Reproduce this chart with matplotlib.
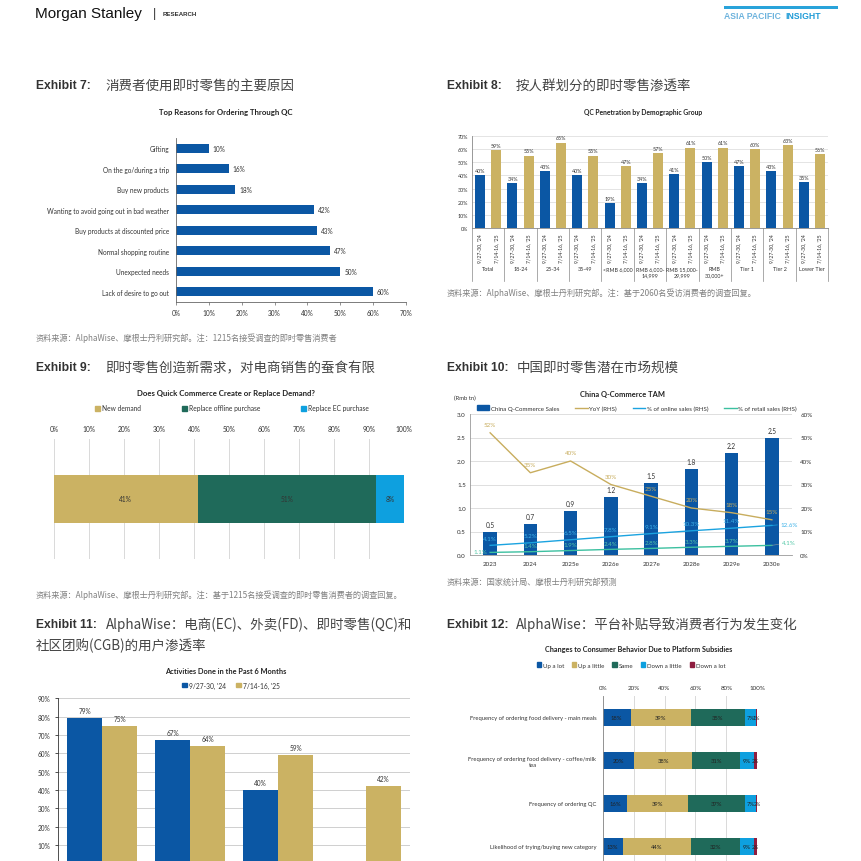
import numpy as np
import matplotlib
matplotlib.use("Agg")
import matplotlib.pyplot as plt
import matplotlib.transforms as mtrans
from matplotlib.patches import Patch
from matplotlib.lines import Line2D

# ── Page geometry (pixels, top-left origin) ─────────────
W = H = 862
DPI = 100

LATIN = ["Liberation Sans", "DejaVu Sans"]
CHART = ["Lato", "DejaVu Sans"]
CJK = ["Noto Sans CJK SC", "DejaVu Sans"]

BLUE = "#0B57A4"
GOLD = "#CBB263"
GREEN = "#1F6A5A"
SKY = "#0EA0DF"
MAROON = "#8E1D3F"
GRID = "#D9D9D9"
TXT = "#333333"
NOTE = "#808080"

# ── Exhibit 7 data ─────────────────────────────────────
reasons = ["Gifting", "On the go/during a trip", "Buy new products",
           "Wanting to avoid going out in bad weather",
           "Buy products at discounted price", "Normal shopping routine",
           "Unexpected needs", "Lack of desire to go out"]
reason_pct = [10, 16, 18, 42, 43, 47, 50, 60]

# ── Exhibit 8 data ─────────────────────────────────────
demo_groups = ["Total", "18-24", "25-34", "35-49", "<RMB 6,000",
               "RMB 6,000-\n14,999", "RMB 15,000-\n29,999", "RMB\n30,000+",
               "Tier 1", "Tier 2", "Lower Tier"]
periods = ["9/27-30, '24", "7/14-16, '25"]
pen_2024 = [40, 34, 43, 40, 19, 34, 41, 50, 47, 43, 35]
pen_2025 = [59, 55, 65, 55, 47, 57, 61, 61, 60, 63, 56]

# ── Exhibit 9 data ─────────────────────────────────────
demand_types = ["New demand", "Replace offline purchase", "Replace EC purchase"]
demand_pct = [41, 51, 8]

# ── Exhibit 10 data ────────────────────────────────────
tam_years = ["2023", "2024", "2025e", "2026e", "2027e", "2028e", "2029e", "2030e"]
tam_sales = [0.50, 0.67, 0.94, 1.23, 1.53, 1.84, 2.17, 2.50]
tam_yoy = [52, 35, 40, 30, 25, 20, 18, 15]
tam_online = [4.1, 5.2, 6.5, 7.8, 9.1, 10.3, 11.4, 12.6]
tam_retail = [1.1, 1.4, 1.9, 2.4, 2.8, 3.3, 3.7, 4.1]

# ── Exhibit 11 data ────────────────────────────────────
activities = ["EC", "FD", "QC", "CGB"]
act_2024 = [79, 67, 40, np.nan]
act_2025 = [75, 64, 59, 42]

# ── Exhibit 12 data ────────────────────────────────────
behaviours = ["Frequency of ordering food delivery - main meals",
              "Frequency of ordering food delivery - coffee/milk\ntea",
              "Frequency of ordering QC",
              "Likelihood of trying/buying new category"]
change_labels = ["Up a lot", "Up a little", "Same", "Down a little", "Down a lot"]
up_lot = [18, 20, 16, 13]
up_little = [39, 38, 39, 44]
same = [35, 31, 37, 32]
down_little = [7, 9, 7, 9]
down_lot = [1, 2, 2, 2]


def add_ax(fig, left, top, right, bottom):
    return fig.add_axes([left / W, 1 - bottom / H, (right - left) / W, (bottom - top) / H])


def ftext(fig, x, y, s, **kw):
    kw.setdefault("va", "center")
    return fig.text(x / W, 1 - y / H, s, **kw)


def exhibit_title(fig, x, y, label, cn, cn_x):
    ftext(fig, x, y, label, fontsize=8.7, fontweight="bold", color=TXT, family=LATIN)
    ftext(fig, cn_x, y, cn, fontsize=9.7, color="#444444", family=CJK)


def chart_title(fig, x, y, s, size=5.6):
    ftext(fig, x, y, s, fontsize=size, fontweight="bold", color="#222222",
          ha="center", family=CHART)


def note(fig, x, y, s):
    ftext(fig, x, y, s, fontsize=5.9, color=NOTE, family=CJK)


def fig_legend(fig, handles, labels, x, y, size=4.8, colsp=2.0, hlen=0.7):
    fig.legend(handles, labels, loc="center", bbox_to_anchor=(x / W, 1 - y / H),
               ncol=len(handles), frameon=False, handlelength=hlen, handleheight=0.7,
               handletextpad=0.3, columnspacing=colsp, borderaxespad=0,
               prop={"family": CHART, "size": size}, labelcolor=TXT)


def style_spines(ax, keep=("left", "bottom"), color="#666666"):
    for name, sp in ax.spines.items():
        if name in keep:
            sp.set_color(color)
            sp.set_linewidth(0.6)
        else:
            sp.set_visible(False)


fig = plt.figure(figsize=(W / DPI, H / DPI), dpi=DPI)
fig.patch.set_facecolor("white")

# ── Header ─────────────────────────────────────────────
ftext(fig, 35, 14, "Morgan Stanley", fontsize=11, color="#111111", family=LATIN)
ftext(fig, 153, 14, "|", fontsize=9, color="#333333", family=LATIN)
ftext(fig, 163, 14, "RESEARCH", fontsize=4.4, fontweight="bold", color="#333333", family=LATIN)
fig.add_artist(plt.Rectangle((724 / W, 1 - 10 / H), 114 / W, 3.5 / H,
                             transform=fig.transFigure, color="#29A3DA", lw=0))
ftext(fig, 724, 16.5, "ASIA PACIFIC", fontsize=6.2, fontweight="bold",
      color="#6DB3DD", family=LATIN)
ftext(fig, 785, 16.5, "INSIGHT", fontsize=6.2, fontweight="bold", color="#1F9BD7",
      family=LATIN)

# ── Exhibit 7 ──────────────────────────────────────────
exhibit_title(fig, 36, 86, "Exhibit 7:", "消费者使用即时零售的主要原因", 105)
chart_title(fig, 226, 112, "Top Reasons for Ordering Through QC")
ax7 = add_ax(fig, 176, 139, 406, 303)
y7 = np.arange(len(reasons))
ax7.barh(y7, reason_pct, height=0.42, color=BLUE)
ax7.set_ylim(len(reasons) - 0.5, -0.5)
ax7.set_xlim(0, 70)
ax7.set_xticks(range(0, 71, 10), [f"{v}%" for v in range(0, 71, 10)])
ax7.set_yticks(y7, reasons)
ax7.tick_params(axis="y", length=0, pad=5, labelsize=4.7, labelcolor=TXT)
ax7.tick_params(axis="x", length=2, width=0.5, pad=3, labelsize=4.7, labelcolor=TXT, color="#666666")
for lab in ax7.get_xticklabels() + ax7.get_yticklabels():
    lab.set_family(CHART)
style_spines(ax7)
for yi, v in zip(y7, reason_pct):
    ax7.text(v + 1.2, yi, f"{v}%", va="center", fontsize=4.7, color=TXT, family=CHART)
note(fig, 36, 338, "资料来源：AlphaWise、摩根士丹利研究部。注：1215名接受调查的即时零售消费者")

# ── Exhibit 8 ──────────────────────────────────────────
exhibit_title(fig, 447, 86, "Exhibit 8:", "按人群划分的即时零售渗透率", 516)
chart_title(fig, 643, 113, "QC Penetration by Demographic Group", size=4.9)
ax8 = add_ax(fig, 472, 137, 828, 229)
g = np.arange(len(demo_groups))
ax8.bar(2 * g, pen_2024, width=0.62, color=BLUE, zorder=2)
ax8.bar(2 * g + 1, pen_2025, width=0.62, color=GOLD, zorder=2)
ax8.set_xlim(-0.5, 2 * len(demo_groups) - 0.5)
ax8.set_ylim(0, 70)
ax8.set_yticks(range(0, 71, 10), [f"{v}%" for v in range(0, 71, 10)])
ax8.set_xticks([])
ax8.grid(axis="y", color=GRID, lw=0.5)
ax8.set_axisbelow(True)
ax8.tick_params(axis="y", length=0, pad=3, labelsize=3.9, labelcolor=TXT)
for lab in ax8.get_yticklabels():
    lab.set_family(CHART)
style_spines(ax8, color="#888888")
tr8 = mtrans.blended_transform_factory(ax8.transData, ax8.transAxes)
for k in range(2 * len(demo_groups)):
    ax8.text(k, -0.06, periods[k % 2], rotation=90, ha="center", va="top",
             transform=tr8, fontsize=3.7, color=TXT, family=CHART)
for i, name in enumerate(demo_groups):
    ax8.text(2 * i + 0.5, -0.41, name, ha="center", va="top", transform=tr8,
             fontsize=3.9, color=TXT, family=CHART, linespacing=1.4)
for b in np.arange(-0.5, 2 * len(demo_groups), 2):
    ax8.plot([b, b], [0, -0.58], transform=tr8, clip_on=False, color="#888888", lw=0.5)
for i in range(len(demo_groups)):
    ax8.text(2 * i, pen_2024[i] + 1.8, f"{pen_2024[i]}%", ha="center", va="bottom",
             fontsize=3.9, color=TXT, family=CHART)
    ax8.text(2 * i + 1, pen_2025[i] + 1.8, f"{pen_2025[i]}%", ha="center", va="bottom",
             fontsize=3.9, color=TXT, family=CHART)
note(fig, 447, 293, "资料来源：AlphaWise、摩根士丹利研究部。注：基于2060名受访消费者的调查回复。")

# ── Exhibit 9 ──────────────────────────────────────────
exhibit_title(fig, 36, 368, "Exhibit 9:", "即时零售创造新需求，对电商销售的蚕食有限", 105)
chart_title(fig, 226, 394, "Does Quick Commerce Create or Replace Demand?")
colors9 = [GOLD, GREEN, SKY]
fig_legend(fig, [Patch(color=c) for c in colors9], demand_types, 232, 409, size=4.8, colsp=6.2)
ax9 = add_ax(fig, 54, 440, 404.3, 560)
left = 0
for val, col in zip(demand_pct, colors9):
    ax9.barh(0, val, left=left, height=1.0, color=col, zorder=2)
    ax9.text(left + val / 2, 0, f"{val}%", ha="center", va="center", fontsize=4.8,
             color=TXT, family=CHART)
    left += val
ax9.set_xlim(0, 100)
ax9.set_ylim(-1.25, 1.25)
ax9.xaxis.tick_top()
ax9.set_xticks(range(0, 101, 10), [f"{v}%" for v in range(0, 101, 10)])
ax9.set_yticks([])
ax9.tick_params(axis="x", length=0, pad=5, labelsize=4.8, labelcolor=TXT)
for lab in ax9.get_xticklabels():
    lab.set_family(CHART)
ax9.grid(axis="x", color=GRID, lw=0.7)
ax9.set_axisbelow(True)
style_spines(ax9, keep=())
note(fig, 36, 595, "资料来源：AlphaWise、摩根士丹利研究部。注：基于1215名接受调查的即时零售消费者的调查回复。")

# ── Exhibit 10 ─────────────────────────────────────────
exhibit_title(fig, 447, 368, "Exhibit 10:", "中国即时零售潜在市场规模", 517)
chart_title(fig, 623, 395, "China Q-Commerce TAM", size=5.4)
ftext(fig, 454, 398, "(Rmb tn)", fontsize=4.2, color=TXT, family=CHART)
YOY_C, ONL_C, RET_C = "#C8AD5E", "#1BA3E0", "#3CC0A0"
fig_legend(fig,
           [Patch(color=BLUE), Line2D([], [], color=YOY_C, lw=1),
            Line2D([], [], color=ONL_C, lw=1), Line2D([], [], color=RET_C, lw=1)],
           ["China Q-Commerce Sales", "YoY (RHS)", "% of online sales (RHS)", "% of retail sales (RHS)"],
           637, 409, size=4.4, colsp=2.6, hlen=2.0)
ax10 = add_ax(fig, 470, 415, 792, 556)
x10 = np.arange(len(tam_years))
ax10.bar(x10, tam_sales, width=0.33, color=BLUE, zorder=2)
ax10.set_xlim(-0.5, len(tam_years) - 0.5)
ax10.set_ylim(0, 3.0)
ax10.set_yticks(np.arange(0, 3.01, 0.5), [f"{v:.1f}" for v in np.arange(0, 3.01, 0.5)])
ax10.set_xticks(x10, tam_years)
ax10.grid(axis="y", color=GRID, lw=0.6)
ax10.set_axisbelow(True)
ax10.tick_params(axis="y", length=0, pad=3, labelsize=4.5, labelcolor=TXT)
ax10.tick_params(axis="x", length=0, pad=4, labelsize=4.5, labelcolor=TXT)
for lab in ax10.get_xticklabels() + ax10.get_yticklabels():
    lab.set_family(CHART)
style_spines(ax10, color="#999999")
for xi, v in zip(x10, tam_sales):
    ax10.text(xi, v + 0.08, f"{v:.1f}", ha="center", va="bottom", fontsize=4.7,
              color=TXT, family=CHART)
ax10r = ax10.twinx()
ax10r.set_ylim(0, 60)
ax10r.set_yticks(range(0, 61, 10), [f"{v}%" for v in range(0, 61, 10)])
ax10r.tick_params(axis="y", length=0, pad=6, labelsize=4.5, labelcolor=TXT)
for lab in ax10r.get_yticklabels():
    lab.set_family(CHART)
style_spines(ax10r, keep=())
ax10r.plot(x10, tam_yoy, color=YOY_C, lw=1.0)
ax10r.plot(x10, tam_online, color=ONL_C, lw=1.0)
ax10r.plot(x10, tam_retail, color=RET_C, lw=1.0)
last = len(tam_years) - 1
for i in x10:
    ax10r.annotate(f"{tam_yoy[i]}%", (i, tam_yoy[i]), xytext=(0, 4), textcoords="offset points",
                   ha="center", va="bottom", fontsize=4.5, color=YOY_C, family=CHART)
    if i < last:
        ax10r.annotate(f"{tam_online[i]}%", (i, tam_online[i]), xytext=(0, 3.5),
                       textcoords="offset points", ha="center", va="bottom",
                       fontsize=4.5, color="#3DB2E8", family=CHART)
    if 0 < i < last:
        ax10r.annotate(f"{tam_retail[i]}%", (i, tam_retail[i]), xytext=(0, 2.5),
                       textcoords="offset points", ha="center", va="bottom",
                       fontsize=4.5, color="#55C8A8", family=CHART)
ax10r.annotate(f"{tam_retail[0]}%", (0, tam_retail[0]), xytext=(-2, 0.5),
               textcoords="offset points", ha="right", va="center",
               fontsize=4.5, color="#55C8A8", family=CHART)
ax10r.annotate(f"{tam_online[last]}%", (last, tam_online[last]), xytext=(6, 1),
               textcoords="offset points", ha="left", va="center", fontsize=4.5,
               color="#3DB2E8", family=CHART,
               arrowprops=dict(arrowstyle="-", color=ONL_C, lw=0.5, shrinkA=0, shrinkB=0))
ax10r.annotate(f"{tam_retail[last]}%", (last, tam_retail[last]), xytext=(7, 2),
               textcoords="offset points", ha="left", va="center", fontsize=4.5,
               color="#55C8A8", family=CHART,
               arrowprops=dict(arrowstyle="-", color="#7A8FA0", lw=0.5, shrinkA=0, shrinkB=0))
note(fig, 447, 582, "资料来源：国家统计局、摩根士丹利研究部预测")

# ── Exhibit 11 ─────────────────────────────────────────
exhibit_title(fig, 36, 625, "Exhibit 11:", "AlphaWise：电商(EC)、外卖(FD)、即时零售(QC)和", 106)
ftext(fig, 36, 646, "社区团购(CGB)的用户渗透率", fontsize=9.7, color="#444444", family=CJK)
chart_title(fig, 226, 672, "Activities Done in the Past 6 Months", size=5.3)
fig_legend(fig, [Patch(color=BLUE), Patch(color=GOLD)], periods, 231, 686, size=4.8, colsp=1.6)
ax11 = add_ax(fig, 58.3, 699.3, 410, 864.3)
x11 = np.arange(len(activities))
ax11.bar(x11 - 0.2, act_2024, width=0.4, color=BLUE, zorder=2)
ax11.bar(x11 + 0.2, act_2025, width=0.4, color=GOLD, zorder=2)
ax11.set_xlim(-0.5, len(activities) - 0.5)
ax11.set_ylim(0, 90)
# the page crop ends just above the 0% line and the category labels
ax11.set_yticks(range(10, 91, 10), [f"{v}%" for v in range(10, 91, 10)])
ax11.set_xticks(x11, activities)
ax11.tick_params(axis="x", labelbottom=False, length=0)
ax11.grid(axis="y", color="#CFCFCF", lw=0.7)
ax11.set_axisbelow(True)
ax11.tick_params(axis="y", length=2.5, width=0.6, pad=3, labelsize=4.7, labelcolor=TXT, color="#333333")
for lab in ax11.get_yticklabels():
    lab.set_family(CHART)
style_spines(ax11, color="#333333")
for xi, a, b in zip(x11, act_2024, act_2025):
    if not np.isnan(a):
        ax11.text(xi - 0.2, a + 2.3, f"{a:.0f}%", ha="center", va="bottom", fontsize=4.7,
                  color=TXT, family=CHART)
    ax11.text(xi + 0.2, b + 2.3, f"{b:.0f}%", ha="center", va="bottom", fontsize=4.7,
              color=TXT, family=CHART)

# ── Exhibit 12 ─────────────────────────────────────────
exhibit_title(fig, 447, 625, "Exhibit 12:", "AlphaWise：平台补贴导致消费者行为发生变化", 516)
chart_title(fig, 639, 650, "Changes to Consumer Behavior Due to Platform Subsidies", size=5.2)
colors12 = [BLUE, GOLD, GREEN, SKY, MAROON]
fig_legend(fig, [Patch(color=c) for c in colors12], change_labels, 631, 666, size=4.4, colsp=1.3)
ax12 = add_ax(fig, 602.7, 697, 757.3, 869)
y12 = np.arange(len(behaviours))
left12 = np.zeros(len(behaviours))
for vals, col in zip([up_lot, up_little, same, down_little, down_lot], colors12):
    vals = np.array(vals, dtype=float)
    ax12.barh(y12, vals, left=left12, height=0.4, color=col, zorder=2)
    for yi, l, v in zip(y12, left12, vals):
        ax12.text(l + v / 2, yi, f"{v:.0f}%", ha="center", va="center",
                  fontsize=4.2 if v >= 5 else 3.8,
                  color="#222222", family=CHART, zorder=3)
    left12 += vals
ax12.set_xlim(0, 100)
ax12.set_ylim(len(behaviours) - 0.5, -0.5)
ax12.xaxis.tick_top()
ax12.set_xticks(range(0, 101, 20), [f"{v}%" for v in range(0, 101, 20)])
ax12.set_yticks(y12, behaviours)
for lab in ax12.get_yticklabels():
    lab.set_multialignment("center")
ax12.tick_params(axis="x", length=0, pad=4, labelsize=4.5, labelcolor=TXT)
ax12.tick_params(axis="y", length=0, pad=4.5, labelsize=4.2, labelcolor=TXT)
for lab in ax12.get_xticklabels() + ax12.get_yticklabels():
    lab.set_family(CHART)
ax12.grid(axis="x", color=GRID, lw=0.7)
ax12.set_axisbelow(True)
style_spines(ax12, keep=("left",), color="#888888")

fig.savefig("out.png", dpi=DPI, facecolor="white")
